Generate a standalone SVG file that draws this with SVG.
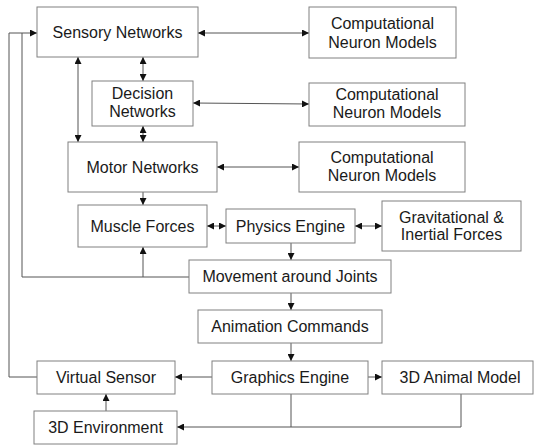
<svg xmlns="http://www.w3.org/2000/svg" width="535" height="445" viewBox="0 0 535 445">
<defs>
<marker id="ah" viewBox="0 0 7 7" refX="7" refY="3.5" markerWidth="7" markerHeight="7" markerUnits="userSpaceOnUse" orient="auto-start-reverse">
<path d="M0,0 L7,3.5 L0,7 z" fill="#111"/>
</marker>
<style>
.box{fill:#fff;stroke:#808080;stroke-width:1}
.t{font-family:"Liberation Sans",Arial,sans-serif;font-size:16px;fill:#1a1a1a;text-anchor:middle}
.c{fill:none;stroke:#555;stroke-width:1}
.a{marker-end:url(#ah)}
.d{marker-start:url(#ah);marker-end:url(#ah)}
</style>
</defs>
<rect width="535" height="445" fill="#fff"/>
<g id="connectors">
<line class="c d" x1="198" y1="33" x2="309" y2="33"/>
<line class="c d" x1="193" y1="103" x2="309" y2="104"/>
<line class="c d" x1="217" y1="167" x2="299" y2="167"/>
<line class="c d" x1="143" y1="57" x2="143" y2="81"/>
<line class="c d" x1="78" y1="57" x2="78" y2="142"/>
<line class="c d" x1="143" y1="126" x2="143" y2="142"/>
<line class="c a" x1="143" y1="192" x2="143" y2="205"/>
<line class="c d" x1="207" y1="226" x2="226" y2="226"/>
<line class="c d" x1="355" y1="226" x2="382" y2="226"/>
<line class="c a" x1="291" y1="243" x2="291" y2="260"/>
<polyline class="c a" points="189,277 22,277 22,33 37,33"/>
<line class="c a" x1="143" y1="277" x2="143" y2="247"/>
<polyline class="c" points="37,377 9,377 9,33 22,33"/>
<line class="c a" x1="291" y1="293" x2="291" y2="310"/>
<line class="c a" x1="291" y1="343" x2="291" y2="361"/>
<line class="c a" x1="212" y1="377" x2="175" y2="377"/>
<line class="c a" x1="368" y1="377" x2="382" y2="377"/>
<polyline class="c a" points="291,394 291,427 177,427"/>
<polyline class="c" points="461,394 461,427 291,427"/>
<line class="c a" x1="106" y1="411" x2="106" y2="394"/>
</g>
<g id="sensory"><rect class="box" x="37" y="7" width="161" height="50"/><text class="t" x="117.5" y="38">Sensory Networks</text></g>
<g id="cnm1"><rect class="box" x="309" y="7" width="147" height="51"/><text class="t" x="382.5" y="28.5">Computational</text><text class="t" x="382.5" y="47.5">Neuron Models</text></g>
<g id="decision"><rect class="box" x="92" y="81" width="101" height="45"/><text class="t" x="142.5" y="99">Decision</text><text class="t" x="142.5" y="117">Networks</text></g>
<g id="cnm2"><rect class="box" x="309" y="83" width="156" height="43"/><text class="t" x="387" y="100">Computational</text><text class="t" x="387" y="118">Neuron Models</text></g>
<g id="motor"><rect class="box" x="68" y="142" width="149" height="50"/><text class="t" x="142.5" y="172.5">Motor Networks</text></g>
<g id="cnm3"><rect class="box" x="299" y="142" width="166" height="50"/><text class="t" x="382" y="163">Computational</text><text class="t" x="382" y="181">Neuron Models</text></g>
<g id="muscle"><rect class="box" x="78" y="205" width="129" height="42"/><text class="t" x="142.5" y="231.5">Muscle Forces</text></g>
<g id="physics"><rect class="box" x="226" y="209" width="129" height="34"/><text class="t" x="290.5" y="231.5">Physics Engine</text></g>
<g id="gravitational"><rect class="box" x="382" y="201" width="139" height="50"/><text class="t" x="451.5" y="222.5">Gravitational &amp;</text><text class="t" x="451.5" y="240">Inertial Forces</text></g>
<g id="movement"><rect class="box" x="189" y="260" width="202" height="33"/><text class="t" x="290" y="281.5">Movement around Joints</text></g>
<g id="animation"><rect class="box" x="198" y="310" width="184" height="33"/><text class="t" x="290" y="331.5">Animation Commands</text></g>
<g id="graphics"><rect class="box" x="212" y="361" width="156" height="33"/><text class="t" x="290" y="382.5">Graphics Engine</text></g>
<g id="virtual"><rect class="box" x="37" y="361" width="138" height="33"/><text class="t" x="106" y="382.5">Virtual Sensor</text></g>
<g id="animal"><rect class="box" x="382" y="361" width="151" height="33"/><text class="t" x="460" y="382.5">3D Animal Model</text></g>
<g id="environment"><rect class="box" x="34" y="411" width="143" height="33"/><text class="t" x="105.5" y="432.5">3D Environment</text></g>
</svg>
